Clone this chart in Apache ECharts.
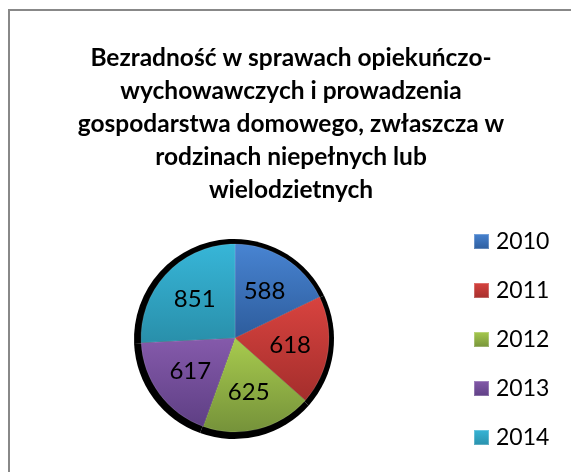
<!DOCTYPE html>
<html>
<head>
<meta charset="utf-8">
<script src="https://cdn.jsdelivr.net/npm/echarts@6/dist/echarts.min.js"></script>
<style>
  html, body { margin: 0; padding: 0; background: #fff; }
  #frame { position: absolute; left: 8px; top: 9px; width: 600px; height: 500px; border: 2px solid #888; box-sizing: border-box; }
  #chart { position: absolute; left: 0; top: 0; width: 571px; height: 472px; }
</style>
</head>
<body>
<div id="frame"></div>
<div id="chart"></div>
<script>
// Chart content
const titleLines = [
  'Bezradność w sprawach opiekuńczo-',
  'wychowawczych i prowadzenia',
  'gospodarstwa domowego, zwłaszcza w',
  'rodzinach niepełnych lub',
  'wielodzietnych'
];
const years = ['2010', '2011', '2012', '2013', '2014'];
const counts = [588, 618, 625, 617, 851];
// top / bottom shade of each slice
const shadeTop = ['#4884D2', '#D8433F', '#A8CB4E', '#855AAB', '#37B6D8'];
const shadeBottom = ['#2D5C9C', '#A42E2C', '#75923A', '#5E3F84', '#298FAA'];

const FONT = 'Lato, "Open Sans", sans-serif';
const CENTER = [235, 338];
const R = 94;

const grad = (i) => ({
  type: 'linear', x: 0, y: 0, x2: 0, y2: 1,
  colorStops: [{ offset: 0, color: shadeTop[i] }, { offset: 1, color: shadeBottom[i] }]
});

const sliceData = years.map((y, i) => ({ name: y, value: counts[i], itemStyle: { color: grad(i) } }));

const chart = echarts.init(document.getElementById('chart'), null, { renderer: 'canvas' });
chart.setOption({
  animation: false,
  title: {
    text: titleLines.join('\n'),
    left: 291,
    top: 42,
    padding: 0,
    textAlign: 'center',
    textStyle: { fontFamily: FONT, fontWeight: 'bold', fontSize: 24.5, lineHeight: 33, color: '#000' }
  },
  legend: {
    orient: 'vertical',
    left: 473,
    top: 230,
    padding: 0,
    icon: 'rect',
    itemWidth: 15,
    itemHeight: 15,
    itemGap: 26,
    data: years,
    textStyle: { fontFamily: FONT, fontSize: 23, lineHeight: 22, color: '#000', padding: [0, 0, 0, 2] }
  },
  series: [
    {
      // dark halo behind the pie
      type: 'pie',
      silent: true,
      center: [CENTER[0] - 1, CENTER[1] + 1],
      radius: [0, R + 6],
      startAngle: 90,
      clockwise: true,
      label: { show: false },
      labelLine: { show: false },
      itemStyle: { color: '#000' },
      data: years.map((y, i) => ({ name: 'halo' + y, value: counts[i] })),
      z: 1
    },
    {
      type: 'pie',
      center: CENTER,
      radius: [0, R],
      startAngle: 90,
      clockwise: true,
      label: { show: false },
      labelLine: { show: false },
      itemStyle: { borderColor: 'rgba(255,255,255,0.25)', borderWidth: 0.5 },
      data: sliceData,
      z: 2
    },
    {
      // value labels, placed at a bit over half the radius
      type: 'pie',
      silent: true,
      center: CENTER,
      radius: [0, R * 1.12],
      startAngle: 90,
      clockwise: true,
      itemStyle: { color: 'rgba(0,0,0,0)' },
      label: { show: true, position: 'inside', formatter: '{c}', fontFamily: FONT, fontSize: 24, color: '#000' },
      labelLine: { show: false },
      data: years.map((y, i) => ({ name: 'lbl' + y, value: counts[i] })),
      z: 3
    }
  ]
});
</script>
</body>
</html>
